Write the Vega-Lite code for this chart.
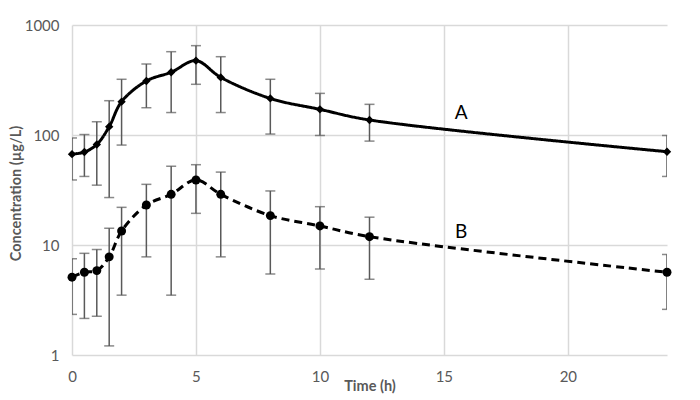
{
  "$schema": "https://vega.github.io/schema/vega-lite/v6.json",
  "width": 595,
  "height": 330,
  "autosize": {"type": "none"},
  "padding": {"left": 72, "top": 25, "right": 33, "bottom": 45},
  "background": "white",
  "config": {
    "view": {"stroke": null},
    "font": "Lato",
    "axis": {
      "grid": true,
      "gridColor": "#d9d9d9",
      "gridWidth": 1.5,
      "domain": false,
      "ticks": false,
      "labelColor": "#595959",
      "labelFont": "Lato",
      "labelFontSize": 15,
      "titleColor": "#595959",
      "titleFont": "Lato",
      "titleFontWeight": "bold",
      "titleFontSize": 14.5
    }
  },
  "datasets": {
    "conc": [
      {"series": "A", "t": 0, "value": 67, "lo": 39, "hi": 94},
      {"series": "A", "t": 0.5, "value": 70, "lo": 42, "hi": 101},
      {"series": "A", "t": 1, "value": 82, "lo": 35, "hi": 132},
      {"series": "A", "t": 1.5, "value": 119, "lo": 27, "hi": 205},
      {"series": "A", "t": 2, "value": 201, "lo": 81, "hi": 321},
      {"series": "A", "t": 3, "value": 310, "lo": 177, "hi": 442},
      {"series": "A", "t": 4, "value": 372, "lo": 160, "hi": 572},
      {"series": "A", "t": 5, "value": 474, "lo": 289, "hi": 649},
      {"series": "A", "t": 6, "value": 334, "lo": 160, "hi": 515},
      {"series": "A", "t": 8, "value": 215, "lo": 102, "hi": 321},
      {"series": "A", "t": 10, "value": 171, "lo": 99, "hi": 239},
      {"series": "A", "t": 12, "value": 137, "lo": 88, "hi": 190},
      {"series": "A", "t": 24, "value": 70.5, "lo": 42, "hi": 99},
      {"series": "B", "t": 0, "value": 5.1, "lo": 2.34, "hi": 7.5},
      {"series": "B", "t": 0.5, "value": 5.65, "lo": 2.15, "hi": 8.4},
      {"series": "B", "t": 1, "value": 5.85, "lo": 2.25, "hi": 9.1},
      {"series": "B", "t": 1.5, "value": 7.8, "lo": 1.21, "hi": 14.2},
      {"series": "B", "t": 2, "value": 13.4, "lo": 3.5, "hi": 22},
      {"series": "B", "t": 3, "value": 23.1, "lo": 7.8, "hi": 35.6},
      {"series": "B", "t": 4, "value": 28.9, "lo": 3.5, "hi": 52},
      {"series": "B", "t": 5, "value": 39, "lo": 19.4, "hi": 53.7},
      {"series": "B", "t": 6, "value": 28.9, "lo": 7.8, "hi": 46},
      {"series": "B", "t": 8, "value": 18.5, "lo": 5.45, "hi": 31},
      {"series": "B", "t": 10, "value": 14.9, "lo": 6.05, "hi": 22.3},
      {"series": "B", "t": 12, "value": 11.9, "lo": 4.88, "hi": 17.9},
      {"series": "B", "t": 24, "value": 5.65, "lo": 2.6, "hi": 8.2}
    ],
    "labels": [
      {"label": "A", "t": 15.7, "value": 158},
      {"label": "B", "t": 15.7, "value": 13.2}
    ]
  },
  "encoding": {
    "x": {
      "field": "t",
      "type": "quantitative",
      "scale": {"domain": [0, 24], "nice": false, "zero": false},
      "axis": {
        "values": [0, 5, 10, 15, 20],
        "title": "Time (h)",
        "labelPadding": 14,
        "titleY": 31,
        "titleBaseline": "middle",
        "labelFlush": false
      }
    },
    "y": {
      "field": "value",
      "type": "quantitative",
      "scale": {"type": "log", "domain": [1, 1000], "nice": false},
      "axis": {
        "values": [1, 10, 100, 1000],
        "format": "d",
        "title": "Concentration  (µg/L)",
        "labelPadding": 13,
        "titleX": -56,
        "titleY": 168,
        "titleAngle": -90,
        "titleBaseline": "middle",
        "titleAlign": "center",
        "labelFlush": false
      }
    }
  },
  "layer": [
    {
      "data": {"name": "conc"},
      "mark": {"type": "rule", "color": "#595959", "strokeWidth": 1.5, "clip": true},
      "encoding": {
        "y": {"field": "lo", "type": "quantitative"},
        "y2": {"field": "hi"}
      }
    },
    {
      "data": {"name": "conc"},
      "mark": {"type": "tick", "orient": "horizontal", "color": "#595959", "size": 10, "thickness": 1.5, "clip": true},
      "encoding": {
        "y": {"field": "lo", "type": "quantitative"}
      }
    },
    {
      "data": {"name": "conc"},
      "mark": {"type": "tick", "orient": "horizontal", "color": "#595959", "size": 10, "thickness": 1.5, "clip": true},
      "encoding": {
        "y": {"field": "hi", "type": "quantitative"}
      }
    },
    {
      "data": {"name": "conc"},
      "mark": {"type": "line", "color": "black", "strokeWidth": 3, "interpolate": "catmull-rom"},
      "encoding": {
        "detail": {"field": "series"},
        "strokeDash": {
          "field": "series",
          "type": "nominal",
          "scale": {"domain": ["A", "B"], "range": [[1, 0], [8, 5]]},
          "legend": null
        }
      }
    },
    {
      "data": {"name": "conc"},
      "mark": {"type": "point", "filled": true, "color": "black", "opacity": 1},
      "encoding": {
        "shape": {
          "field": "series",
          "type": "nominal",
          "scale": {"domain": ["A", "B"], "range": ["diamond", "circle"]},
          "legend": null
        },
        "size": {
          "field": "series",
          "type": "nominal",
          "scale": {"domain": ["A", "B"], "range": [70, 80]},
          "legend": null
        }
      }
    },
    {
      "data": {"name": "labels"},
      "mark": {"type": "text", "font": "Lato", "fontSize": 19, "color": "black", "align": "center", "baseline": "middle"},
      "encoding": {
        "text": {"field": "label"}
      }
    }
  ]
}
